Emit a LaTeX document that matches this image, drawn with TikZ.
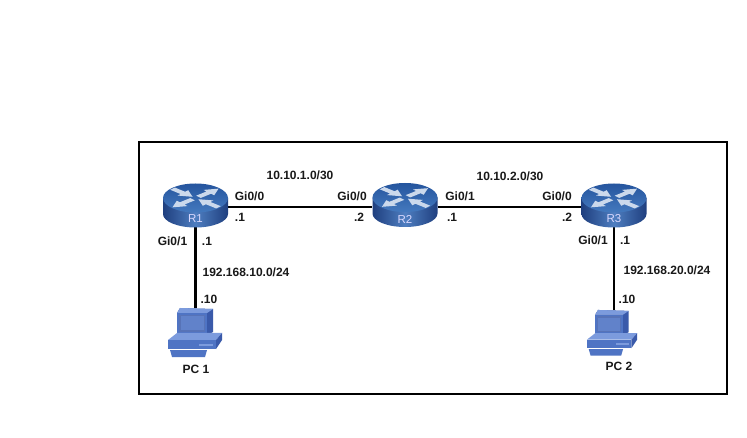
\documentclass[tikz,border=0pt]{standalone}
\usepackage{fontspec}
\setmainfont{Liberation Sans}
\definecolor{rtop}{HTML}{25559E}
\definecolor{rtoplight}{HTML}{4479BE}
\definecolor{rdark}{HTML}{1F3F7F}
\definecolor{rlight}{HTML}{4E7EC0}
\definecolor{arrowc}{HTML}{CBD9EC}
\definecolor{pcfront}{HTML}{4F74C4}
\definecolor{pcdark}{HTML}{3A5AAA}
\definecolor{pclight}{HTML}{7C9BDD}
\tikzset{
  x=1pt,y=-1pt,
  link/.style={draw=black,line width=2.8pt},
  lbl/.style={font=\bfseries\fontsize{12}{13}\selectfont,inner sep=0pt,text=black!90},
  rlbl/.style={font=\fontsize{11.5}{13}\selectfont,text=white!85!blue,inner sep=0pt},
  routerbox/.style={inner sep=0pt,minimum width=65pt,minimum height=43pt},
  pcbox/.style={inner sep=0pt,minimum width=54pt,minimum height=49pt},
  pcboxsmall/.style={inner sep=0pt,minimum width=50pt,minimum height=46pt},
  rarrow/.style={fill=arrowc,draw=none},
  router/.pic={
    \shade[left color=rdark,right color=rdark,middle color=rlight]
      (-32.5,-8) -- (-32.5,8) arc[start angle=180,end angle=0,x radius=32.5,y radius=13.5] -- (32.5,-8) -- cycle;
    \shade[top color=rtop,bottom color=rtoplight]
      (0,-8) ellipse[x radius=32.5,y radius=14.5];
    \begin{scope}[shift={(0,-8)},yscale=0.45]
      \foreach \a in {138,318}{
        \fill[rarrow,rotate=\a] (31,-3.4) -- (17,-3.4) -- (17,-8) -- (4,0) -- (17,8) -- (17,3.4) -- (31,3.4) -- cycle;}
      \foreach \a in {42,222}{
        \fill[rarrow,rotate=\a] (4,-3.4) -- (18,-3.4) -- (18,-8) -- (31,0) -- (18,8) -- (18,3.4) -- (4,3.4) -- cycle;}
    \end{scope}
  },
  pcicon/.pic={
    \fill[pcdark] (-14,-28) -- (19,-27) -- (19,-4) -- (13,-1) -- (13,-23) -- (-17,-23) -- cycle;
    \fill[pclight] (-17,-23) -- (-14,-28) -- (19,-27) -- (13,-23) -- cycle;
    \fill[pcfront] (-17,-23) rectangle (13,-3);
    \fill[pcdark!85] (-15,-21) rectangle (11,-4);
    \fill[pcfront!90] (-13.5,-19.5) rectangle (9.5,-5.5);
    \fill[pclight] (-26,4) -- (-17,-3) -- (28,-3) -- (22,4) -- cycle;
    \fill[pcdark] (22,4) -- (28,-3) -- (28,4) -- (22,13) -- cycle;
    \fill[pcfront] (-26,4) rectangle (22,13);
    \fill[pclight] (5,8) rectangle (19,9.5);
    \fill[pcfront] (-24,14) -- (13,14) -- (11,21) -- (-22,21) -- cycle;
  }
}
\begin{document}
\begin{tikzpicture}
\useasboundingbox (0,0) rectangle (747,438);
\fill[white] (0,0) rectangle (747,438);
\draw[line width=2.6pt,black] (139,142) rectangle (727,394);

\node[routerbox] (R1) at (195.5,204) {};
\node[routerbox] (R2) at (405,204) {};
\node[routerbox] (R3) at (614,204) {};
\node[pcbox] (PC1) at (195,332.5) {};
\node[pcboxsmall] (PC2) at (612,333) {};

\draw[link] (R1.east |- 0,207) -- (R2.west |- 0,207);
\draw[link] (R2.east |- 0,207) -- (R3.west |- 0,207);
\draw[link] (R1.south) -- (R1.south |- PC1.north);
\draw[link] (R3.south) -- (R3.south |- PC2.north);

\pic at (195.5,206) {router};
\pic at (405,205.5) {router};
\pic at (614,206) {router};
\pic at (194,336) {pcicon};
\pic[scale=0.93] at (611,336) {pcicon};

\node[rlbl] at (195.5,219) {R1};
\node[rlbl] at (405,219) {R2};
\node[rlbl] at (614,219) {R3};

\node[lbl] at (300,175) {10.10.1.0/30};
\node[lbl] at (249.5,196) {Gi0/0};
\node[lbl] at (240,217) {.1};
\node[lbl] at (172.5,241) {Gi0/1};
\node[lbl] at (207,241) {.1};
\node[lbl] at (246,272) {192.168.10.0/24};
\node[lbl] at (209,299) {.10};
\node[lbl] at (196,369) {PC 1};
\node[lbl] at (352,196) {Gi0/0};
\node[lbl] at (359,217) {.2};
\node[lbl] at (460,196) {Gi0/1};
\node[lbl] at (452,217) {.1};
\node[lbl] at (510,176) {10.10.2.0/30};
\node[lbl] at (557,196) {Gi0/0};
\node[lbl] at (567,217) {.2};
\node[lbl] at (593,240) {Gi0/1};
\node[lbl] at (625,240) {.1};
\node[lbl] at (667,270) {192.168.20.0/24};
\node[lbl] at (627,299) {.10};
\node[lbl] at (619,366) {PC 2};
\end{tikzpicture}
\end{document}
